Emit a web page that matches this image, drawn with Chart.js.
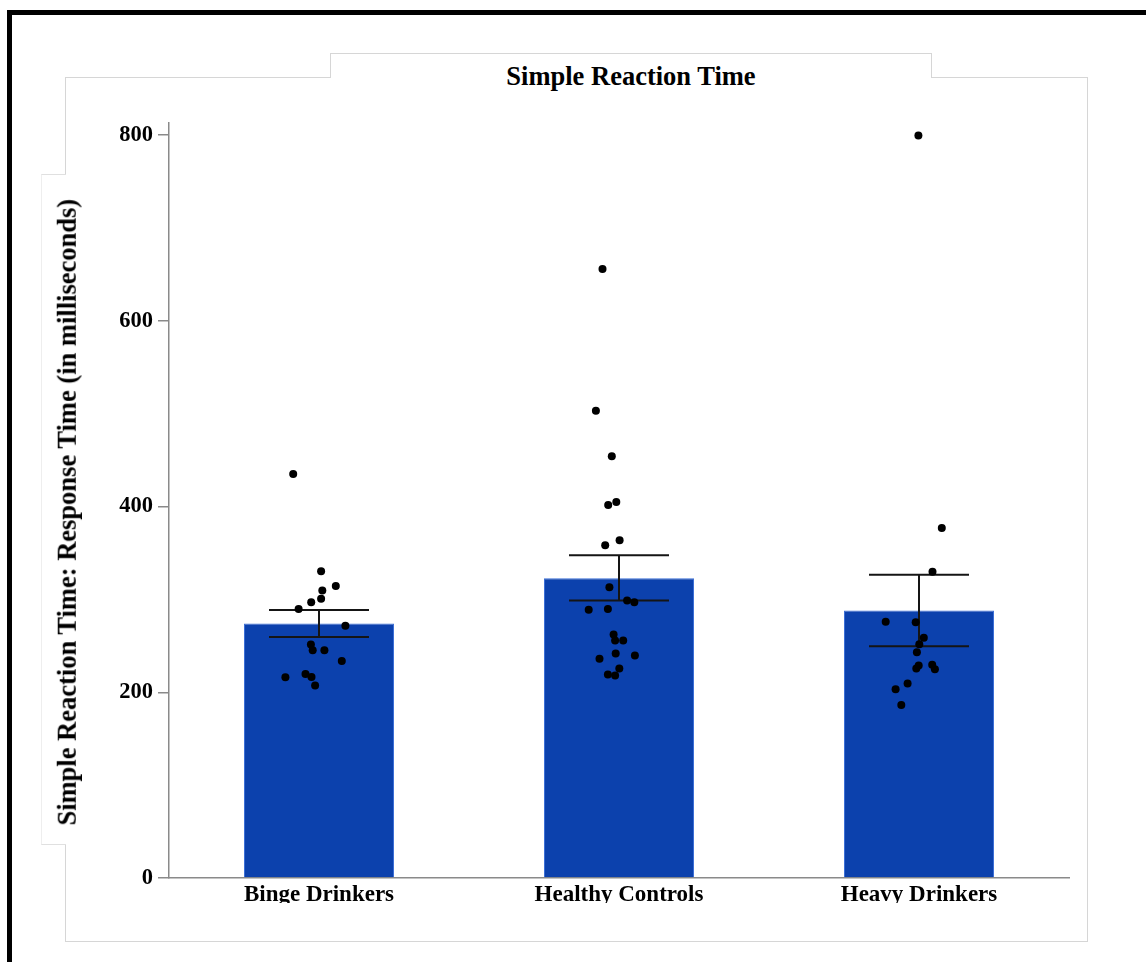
<!DOCTYPE html>
<html>
<head>
<meta charset="utf-8">
<script src="https://cdn.jsdelivr.net/npm/chart.js@4"></script>
<style>
  html, body { margin: 0; padding: 0; background: #fff; }
  body { width: 1146px; height: 962px; position: relative; overflow: hidden; font-family: "Liberation Serif", "Times New Roman", serif; }
  .frame { position: absolute; left: 7px; top: 10px; width: 1200px; height: 1000px; border-left: 5px solid #000; border-top: 5px solid #000; }
  .panel { position: absolute; left: 65px; top: 77px; width: 1023px; height: 865px; box-sizing: border-box; border: 1px solid #d6d6d6; background: #fff; }
  .title-box { position: absolute; left: 330px; top: 53px; width: 602px; height: 25px; box-sizing: border-box; border: 1px solid #d6d6d6; border-bottom: none; background: #fff; }
  .ylabel-box { position: absolute; left: 41px; top: 174px; width: 25px; height: 671px; box-sizing: border-box; border: 1px solid #e0e0e0; border-left-color: #eeeeee; border-right: none; background: #fff; }
  .title { position: absolute; left: 330px; top: 63px; width: 602px; text-align: center; font-weight: bold; font-size: 26.5px; line-height: 26.5px; color: #000; white-space: nowrap; }
  .ytitle { position: absolute; left: -333px; top: 499px; width: 800px; height: 26.5px; text-align: center; font-weight: bold; font-size: 26.5px; line-height: 26.5px; color: #000; white-space: nowrap; transform: rotate(-90deg); z-index: 3; }
  .chart-wrap { position: absolute; left: 66px; top: 78px; width: 1021px; height: 825px; z-index: 2; }
</style>
</head>
<body>
<div class="frame"></div>
<div class="panel"></div>
<div class="title-box"></div>
<div class="ylabel-box"></div>
<div class="title">Simple Reaction Time</div>
<div class="ytitle">Simple Reaction Time: Response Time (in milliseconds)</div>
<div class="chart-wrap"><canvas id="rtChart"></canvas></div>

<script>
const groups = ["Binge Drinkers", "Healthy Controls", "Heavy Drinkers"];
const meanRT = [274.1, 322.7, 288.1];
const errLow = [259.4, 298.9, 249.6];
const errHigh = [288.5, 347.5, 326.5];
const yMax = 813;
const yTicks = [0, 200, 400, 600, 800];

// individual participants, with horizontal jitter (in category widths)
const bingeRT = [435.1, 330.2, 314.3, 309.7, 300.7, 296.8, 289.6, 271.5, 251.5, 245.3, 245.3, 233.8, 216.2, 219.8, 216.5, 207.3];
const bingeJitter = [-0.086, 0.007, 0.056, 0.011, 0.007, -0.026, -0.068, 0.088, -0.027, -0.021, 0.018, 0.076, -0.112, -0.045, -0.025, -0.013];
const controlRT = [655.9, 503.1, 454.2, 401.7, 404.9, 358.2, 363.6, 313.0, 298.9, 296.8, 288.8, 289.6, 262.3, 255.8, 255.8, 241.8, 239.6, 236.0, 225.6, 219.1, 218.1];
const controlJitter = [-0.055, -0.077, -0.024, -0.036, -0.009, -0.046, 0.002, -0.032, 0.027, 0.051, -0.101, -0.037, -0.018, -0.013, 0.014, -0.011, 0.053, -0.065, 0.001, -0.037, -0.013];
const heavyRT = [799.6, 376.9, 329.8, 275.9, 275.5, 258.6, 251.8, 243.2, 228.8, 225.6, 229.5, 224.8, 209.4, 203.3, 186.3];
const heavyJitter = [-0.002, 0.076, 0.045, -0.111, -0.011, 0.016, 0.001, -0.007, -0.001, -0.009, 0.044, 0.053, -0.038, -0.078, -0.059];

const pointGroups = [
  { values: bingeRT, jitter: bingeJitter },
  { values: controlRT, jitter: controlJitter },
  { values: heavyRT, jitter: heavyJitter }
];
const points = pointGroups.flatMap((g, gi) => g.values.map((v, i) => ({ x: gi + g.jitter[i], y: v })));

const axisColor = "#8a8a8a";
const serif = "'Liberation Serif', 'Times New Roman', serif";

const errorBars = {
  id: "errorBars",
  afterDatasetDraw(chart, args) {
    if (args.index !== 0) return;
    const { ctx } = chart;
    const y = chart.scales.y;
    ctx.save();
    ctx.strokeStyle = "#151515";
    ctx.lineWidth = 2;
    args.meta.data.forEach((bar, i) => {
      const half = bar.width / 3;
      const top = y.getPixelForValue(errHigh[i]);
      const bottom = y.getPixelForValue(errLow[i]);
      ctx.beginPath();
      ctx.moveTo(bar.x, top);
      ctx.lineTo(bar.x, bottom);
      ctx.moveTo(bar.x - half, top);
      ctx.lineTo(bar.x + half, top);
      ctx.moveTo(bar.x - half, bottom);
      ctx.lineTo(bar.x + half, bottom);
      ctx.stroke();
    });
    ctx.restore();
  }
};

new Chart(document.getElementById("rtChart"), {
  type: "bar",
  data: {
    labels: groups,
    datasets: [
      {
        label: "Mean",
        data: meanRT,
        backgroundColor: "#0c41ad",
        borderColor: "#3c6fd6",
        borderWidth: 1,
        borderSkipped: "bottom",
        grouped: false,
        barPercentage: 0.5,
        categoryPercentage: 1,
        order: 2
      },
      {
        type: "scatter",
        label: "Participants",
        data: points,
        xAxisID: "xj",
        backgroundColor: "#000",
        borderWidth: 0,
        pointRadius: 4,
        order: 1
      }
    ]
  },
  plugins: [errorBars],
  options: {
    responsive: true,
    maintainAspectRatio: false,
    animation: false,
    layout: { padding: { top: 45, right: 18, bottom: 0, left: 0 } },
    plugins: {
      legend: { display: false },
      tooltip: { enabled: false },
      title: { display: false }
    },
    scales: {
      x: {
        type: "category",
        offset: true,
        grid: { display: false, drawTicks: false },
        border: { display: true, color: axisColor, width: 1.5 },
        ticks: { color: "#000", font: { family: serif, size: 23, weight: "bold" }, padding: 3, maxRotation: 0 },
        afterFit: scale => { scale.height = 25; }
      },
      xj: {
        type: "linear",
        min: -0.5,
        max: 2.5,
        offset: false,
        display: false
      },
      y: {
        min: 0,
        max: yMax,
        grid: { drawOnChartArea: false, drawTicks: true, tickLength: 11, tickColor: axisColor, lineWidth: 1.5 },
        border: { display: true, color: axisColor, width: 1.5 },
        ticks: { color: "#000", font: { family: serif, size: 22.5, weight: "bold" }, padding: 5 },
        afterBuildTicks: scale => { scale.ticks = yTicks.map(v => ({ value: v })); },
        afterFit: scale => { scale.width = 103; }
      }
    }
  }
});
</script>
</body>
</html>
